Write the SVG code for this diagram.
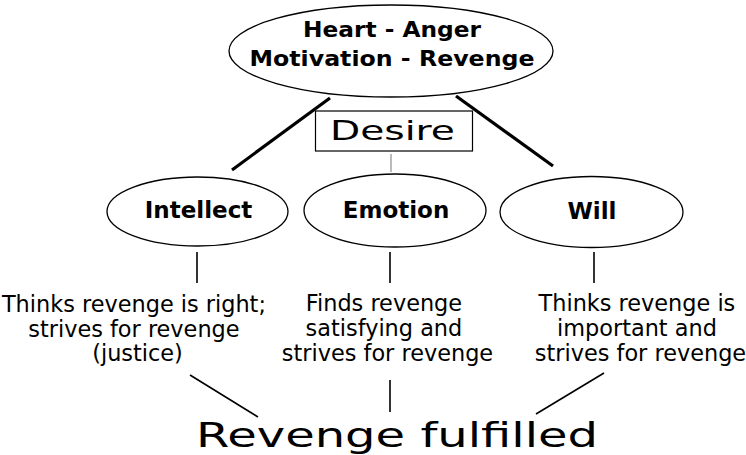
<svg xmlns="http://www.w3.org/2000/svg" width="746" height="455" viewBox="0 0 746 455">
  <style>
    .shape { fill: #ffffff; stroke: #000000; stroke-width: 1.3; }
    .bold { font-family: "DejaVu Sans", "Liberation Sans", sans-serif; font-weight: bold; fill: #000; text-anchor: middle; }
    .plain { font-family: "DejaVu Sans", "Liberation Sans", sans-serif; fill: #000; text-anchor: middle; }
    .thick { stroke: #000; stroke-width: 3.2; fill: none; }
    .thin { stroke: #000; stroke-width: 1.6; fill: none; }
    .hair { stroke: #777; stroke-width: 1; fill: none; }
  </style>
  <rect width="746" height="455" fill="#ffffff"/>

  <g id="connectors">
    <line class="thick" x1="330" y1="98" x2="232" y2="170"/>
    <line class="thick" x1="456" y1="96" x2="553" y2="166"/>
    <line class="hair" x1="391" y1="154" x2="391" y2="172"/>
    <line class="thin" x1="197" y1="252" x2="197" y2="283"/>
    <line class="thin" x1="390" y1="252" x2="390" y2="283"/>
    <line class="thin" x1="594" y1="252" x2="594" y2="283"/>
    <line class="thin" x1="190" y1="375" x2="258" y2="417"/>
    <line class="thin" x1="390" y1="380" x2="390" y2="412"/>
    <line class="thin" x1="604" y1="373" x2="536" y2="414"/>
  </g>

  <g id="heart">
    <ellipse class="shape" cx="391" cy="51" rx="162" ry="46"/>
    <text class="bold" x="392" y="37" font-size="22" textLength="178" lengthAdjust="spacingAndGlyphs">Heart - Anger</text>
    <text class="bold" x="392" y="66" font-size="22" textLength="285" lengthAdjust="spacingAndGlyphs">Motivation - Revenge</text>
  </g>

  <g id="desire">
    <rect x="315.5" y="111" width="157" height="40" fill="#ffffff" stroke="#000" stroke-width="1.2"/>
    <text class="plain" x="392.5" y="140" font-size="26.5" textLength="125" lengthAdjust="spacingAndGlyphs">Desire</text>
  </g>

  <g id="intellect">
    <ellipse class="shape" cx="197.5" cy="211.5" rx="90.5" ry="34.5"/>
    <text class="bold" x="198.5" y="218" font-size="23">Intellect</text>
  </g>

  <g id="emotion">
    <ellipse class="shape" cx="395" cy="210.5" rx="91" ry="36.5"/>
    <text class="bold" x="396" y="218" font-size="23">Emotion</text>
  </g>

  <g id="will">
    <ellipse class="shape" cx="591.5" cy="212" rx="91.5" ry="35.5"/>
    <text class="bold" x="592" y="219" font-size="23">Will</text>
  </g>

  <g id="intellect-note">
    <text class="plain" font-size="22.4">
      <tspan x="137.5" y="312">Thinks revenge is right;</tspan>
      <tspan x="137.5" y="336.5">strives for revenge</tspan>
      <tspan x="137.5" y="361">(justice)</tspan>
    </text>
  </g>

  <g id="emotion-note">
    <text class="plain" font-size="22.4">
      <tspan x="387.5" y="310.5">Finds revenge</tspan>
      <tspan x="387.5" y="335.5">satisfying and</tspan>
      <tspan x="387.5" y="360.5">strives for revenge</tspan>
    </text>
  </g>

  <g id="will-note">
    <text class="plain" font-size="22.4">
      <tspan x="640.5" y="310.5">Thinks revenge is</tspan>
      <tspan x="640.5" y="335.5">important and</tspan>
      <tspan x="640.5" y="360.5">strives for revenge</tspan>
    </text>
  </g>

  <g id="fulfilled">
    <text class="plain" x="397" y="447" font-size="33" textLength="402" lengthAdjust="spacingAndGlyphs">Revenge fulfilled</text>
  </g>
</svg>
